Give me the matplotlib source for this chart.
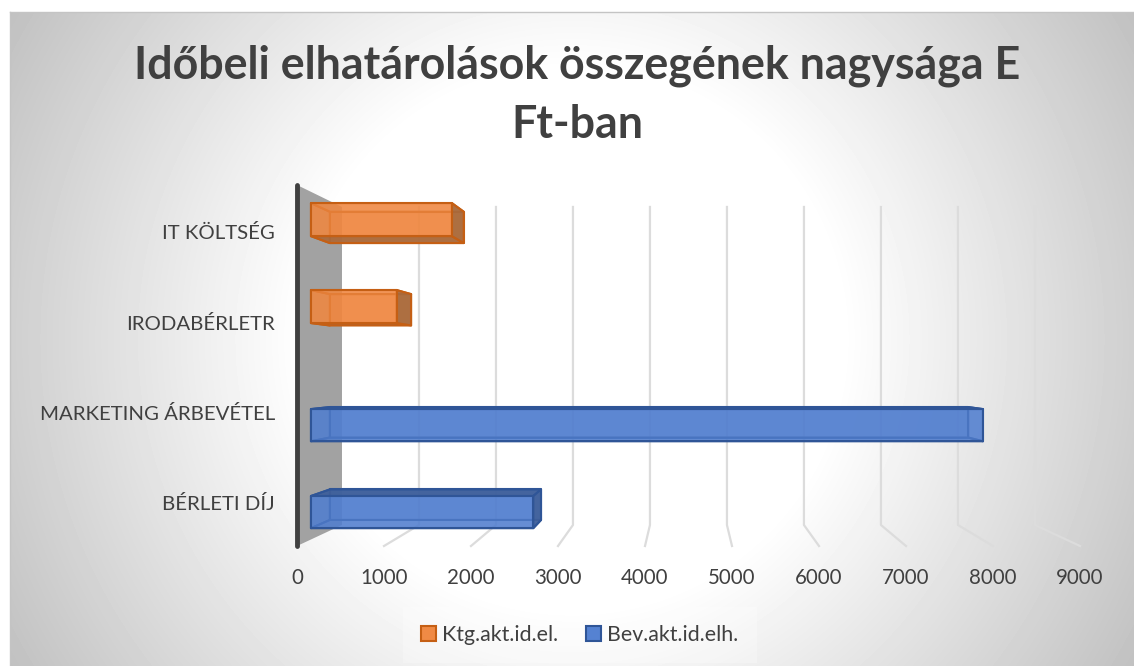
#!/usr/bin/env python3
"""Idobeli elhatarolasok - horizontal clustered 3D-look bars."""

import matplotlib
matplotlib.use("Agg")
import matplotlib.pyplot as plt
import numpy as np
from matplotlib.colors import to_rgba
from matplotlib.patches import Patch, Polygon

plt.rcParams["font.family"] = ["Lato", "DejaVu Sans"]

TITLE = "Időbeli elhatárolások összegének nagysága E\nFt-ban"
categories = ["BÉRLETI DÍJ", "MARKETING ÁRBEVÉTEL", "IRODABÉRLETR", "IT KÖLTSÉG"]
ktg_values = [0, 0, 1020, 1680]
bev_values = [2650, 8010, 0, 0]
xticks = [0, 1000, 2000, 3000, 4000, 5000, 6000, 7000, 8000, 9000]
series_names = ["Ktg.akt.id.el.", "Bev.akt.id.elh."]

W, H = 1134, 666
TEXT = "#404040"
GRID = "#dcdcdc"

# fake perspective: t=0 is the front plane, t=1 the back wall
WALL_DX = 517.0
X_SHRINK = 0.115
WALL_DY = 0.2327
Y_SHRINK = 0.119
T_NEAR, T_FAR = 0.31, 0.73


def project(v, c, t):
    return v * (1 - t * X_SHRINK) + WALL_DX * t, c * (1 - t * Y_SHRINK) + WALL_DY * t


def draw_box(ax, value, c0, c1, colors):
    front, inner, dark, edge = colors
    nl, nb = project(0, c0, T_NEAR)
    nr, nt = project(value, c1, T_NEAR)
    fl, fb = project(0, c0, T_FAR)
    fr, ft = project(value, c1, T_FAR)

    faces = [
        ([(fl, fb), (fr, fb), (fr, ft), (fl, ft)], inner, 0.75, 3),
        ([(nl, nb), (fl, fb), (fl, ft), (nl, nt)], inner, 0.6, 3),
        ([(nl, nb), (nr, nb), (fr, fb), (fl, fb)], dark if fb < nb else inner, 0.9 if fb < nb else 0.6, 3),
        ([(nl, nt), (nr, nt), (fr, ft), (fl, ft)], dark if ft > nt else inner, 0.9 if ft > nt else 0.6, 3),
        ([(nr, nb), (fr, fb), (fr, ft), (nr, nt)], dark if fr > nr else inner, 0.9 if fr > nr else 0.6, 3),
        ([(nl, nb), (nr, nb), (nr, nt), (nl, nt)], front, 0.7, 4),
    ]
    for pts, color, alpha, z in faces:
        ax.add_patch(Polygon(pts, closed=True, facecolor=to_rgba(color, alpha), edgecolor=edge,
                             linewidth=1.5, zorder=z, joinstyle="round"))


fig = plt.figure(figsize=(W / 100, H / 100), dpi=100, facecolor="white")

# background gradient
bg = fig.add_axes([10 / W, 0, 1 - 10 / W, 1 - 12 / H])
yy, xx = np.mgrid[12:H, 10:W]
r = np.hypot(xx - 572, yy - 339)
shade = 1 - 0.25 * np.clip((r - 270) / 390, 0, 1)
bg.imshow(shade, cmap="gray", vmin=0, vmax=1, aspect="auto", interpolation="bilinear")
bg.set_xticks([])
bg.set_yticks([])
for name, spine in bg.spines.items():
    spine.set_color("#c4c4c4")
    spine.set_linewidth(1)
    spine.set_visible(name in ("top", "left"))

ax = fig.add_axes([297 / W, (H - 546) / H, 783 / W, 361 / H])
ax.patch.set_alpha(0)
ax.set_xlim(0, 9000)
ax.set_ylim(0, 4)

# side wall
ax.add_patch(Polygon([project(0, 0, 0), project(0, 0, 1), project(0, 4, 1), project(0, 4, 0)],
                     closed=True, facecolor="#a2a2a2", edgecolor="none", zorder=1))

# gridlines: up the back wall, then across the floor
for v in xticks[1:]:
    pts = [project(v, 4, 1), project(v, 0, 1), project(v, 0, 0)]
    ax.plot(*zip(*pts), color=GRID, linewidth=1.6, zorder=2, clip_on=False)

orange = ("#f08a45", "#ed7d31", "#a66a3e", "#c55f14")
blue = ("#5582d2", "#4472c4", "#3f5f99", "#2f5597")
for i in range(len(categories)):
    if bev_values[i]:
        draw_box(ax, bev_values[i], i + 0.13, i + 0.5, blue)
    if ktg_values[i]:
        draw_box(ax, ktg_values[i], i + 0.49, i + 0.87, orange)

ax.set_xticks(xticks)
ax.set_yticks(np.arange(len(categories)) + 0.48)
ax.set_yticklabels(categories)
ax.tick_params(axis="x", length=0, pad=16, labelsize=14.8, labelcolor=TEXT)
ax.tick_params(axis="y", length=0, pad=16, labelsize=14.7, labelcolor=TEXT)
for name, spine in ax.spines.items():
    spine.set_visible(name == "left")
ax.spines["left"].set_color(TEXT)
ax.spines["left"].set_linewidth(3.5)
ax.spines["left"].set_capstyle("round")
ax.spines["left"].set_zorder(6)

fig.text(577 / W, 1 - 95.5 / H, TITLE, ha="center", va="center", fontsize=32.2,
         fontweight="bold", color=TEXT, linespacing=1.49)

handles = [
    Patch(facecolor=orange[0], edgecolor=orange[3], linewidth=1.5, label=series_names[0]),
    Patch(facecolor=blue[0], edgecolor=blue[3], linewidth=1.5, label=series_names[1]),
]
leg = fig.legend(handles=handles, loc="center", bbox_to_anchor=(580 / W, 1 - 635 / H), ncol=2,
                 frameon=True, fontsize=15.4, labelcolor=TEXT, handlelength=0.68,
                 handleheight=0.68, handletextpad=0.3, columnspacing=1.3,
                 fancybox=False, borderpad=0.85, borderaxespad=0)
leg.get_frame().set_facecolor("white")
leg.get_frame().set_edgecolor("none")
leg.get_frame().set_alpha(0.25)

fig.savefig("out.png", dpi=100)
